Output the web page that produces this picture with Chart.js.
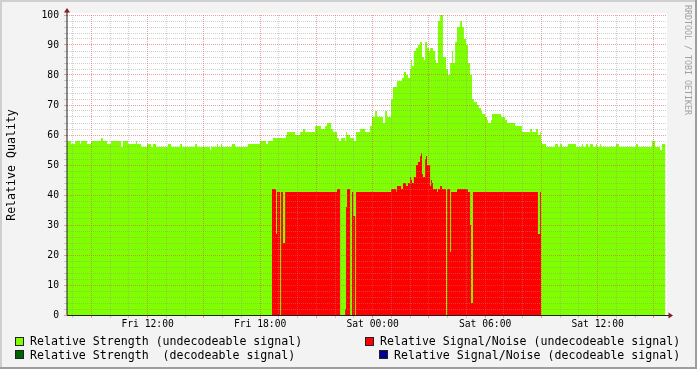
<!DOCTYPE html>
<html>
<head>
<meta charset="utf-8">
<script src="https://cdn.jsdelivr.net/npm/chart.js@4.4.0/dist/chart.umd.min.js"></script>
<style>
  html, body { margin: 0; padding: 0; background: #f3f3f3; }
  #wrap { position: relative; width: 697px; height: 369px; overflow: hidden; font-family: 'DejaVu Sans Mono', monospace; }
  #chart { position: absolute; left: 0; top: 0; }
  .item { position: absolute; font-size: 11.6px; line-height: 14px; white-space: pre; color: #000; }
  .swatch { position: absolute; width: 7px; height: 7px; border: 1px solid #222; }
  #ytitle { position: absolute; left: -89px; top: 158px; width: 200px; text-align: center; font-size: 11.6px; line-height: 14px; transform: rotate(-90deg); white-space: pre; }
  #credit { position: absolute; left: 683px; top: 5px; font-size: 8.3px; line-height: 10px; writing-mode: vertical-rl; color: #a0a0a0; white-space: pre; }
</style>
</head>
<body>
<div id="wrap">
  <canvas id="chart" width="697" height="369"></canvas>
  <div id="ytitle">Relative Quality</div>
  <div id="credit">RRDTOOL / TOBI OETIKER</div>
  <div class="swatch" style="left:15px;top:337px;background:#7fff00"></div>
  <div class="item" style="left:30px;top:334px">Relative Strength (undecodeable signal)</div>
  <div class="swatch" style="left:15px;top:350px;background:#006400"></div>
  <div class="item" style="left:30px;top:348px">Relative Strength  (decodeable signal)</div>
  <div class="swatch" style="left:365px;top:337px;background:#ff0000"></div>
  <div class="item" style="left:380px;top:334px">Relative Signal/Noise (undecodeable signal)</div>
  <div class="swatch" style="left:379px;top:350px;background:#000090"></div>
  <div class="item" style="left:394px;top:348px">Relative Signal/Noise (decodeable signal)</div>
</div>
<script>
// time axis in minutes since Fri 00:00
const startMinute = 462;   // Fri 07:42
const endMinute = 2382;    // Sat 15:42

const xTickMinutes = [720, 1080, 1440, 1800, 2160];
const xTickLabels = ['Fri 12:00', 'Fri 18:00', 'Sat 00:00', 'Sat 06:00', 'Sat 12:00'];

// Relative Strength (undecodeable) - value holds until the next time
const strengthTimes = [
  462, 475, 488, 504, 507, 526, 539, 571, 577, 590, 603, 635, 641, 657, 683, 686, 699, 718,
  731, 737, 747, 785, 795, 824, 830, 872, 878, 920, 923, 942, 945, 955, 958, 990, 1000, 1041,
  1080, 1099, 1105, 1121, 1163, 1166, 1192, 1208, 1217, 1224, 1256, 1275, 1288, 1294, 1307,
  1313, 1326, 1332, 1339, 1352, 1355, 1358, 1368, 1380, 1387, 1400, 1416, 1432, 1438, 1448,
  1454, 1473, 1480, 1486, 1499, 1505, 1518, 1534, 1540, 1547, 1553, 1560, 1563, 1566, 1572,
  1579, 1585, 1592, 1598, 1604, 1608, 1614, 1620, 1624, 1633, 1640, 1643, 1649, 1656, 1665,
  1675, 1681, 1688, 1694, 1697, 1704, 1710, 1720, 1726, 1732, 1739, 1745, 1752, 1758, 1764,
  1774, 1780, 1787, 1790, 1800, 1806, 1809, 1819, 1822, 1851, 1864, 1870, 1896, 1918, 1944,
  1950, 1963, 1969, 1976, 1979, 1982, 1995, 2024, 2033, 2040, 2046, 2065, 2091, 2110, 2113,
  2123, 2129, 2136, 2145, 2155, 2158, 2168, 2171, 2219, 2228, 2283, 2289, 2334, 2344, 2360,
  2366, 2377
];
const strengthValues = [
  58, 57, 58, 57, 58, 57, 58, 59, 58, 57, 58, 56, 58, 57, 58, 57, 56, 57,
  56, 57, 56, 57, 56, 57, 56, 57, 56, 55, 56, 57, 56, 57, 56, 57, 56, 57,
  58, 57, 58, 59, 60, 61, 60, 61, 62, 61, 63, 62, 63, 64, 62,
  61, 59, 58, 59, 58, 61, 60, 59, 58, 61, 62, 61, 63, 66, 68,
  66, 64, 68, 66, 72, 76, 78, 79, 81, 80, 79, 82, 85, 83, 88,
  89, 90, 91, 86, 85, 91, 89, 88, 89, 88, 85, 84, 98, 100, 86,
  82, 80, 84, 88, 84, 91, 96, 98, 96, 92, 90, 84, 80, 72, 71,
  70, 69, 68, 67, 66, 65, 64, 65, 67, 66, 65, 64, 63, 61, 62,
  61, 62, 60, 61, 58, 57, 56, 57, 56, 57, 56, 57, 56, 57, 56,
  57, 56, 57, 56, 57, 56, 57, 56, 57, 56, 57, 56, 58, 56, 55,
  57, 57
];

// Relative Signal/Noise (undecodeable)
const snrTimes = [
  1118, 1131, 1134, 1144, 1147, 1153, 1160, 1326, 1336, 1352, 1355, 1358, 1368, 1374, 1378,
  1384, 1387, 1499, 1516, 1518, 1531, 1537, 1547, 1553, 1560, 1563, 1566, 1572, 1579, 1585,
  1592, 1595, 1598, 1601, 1608, 1611, 1614, 1624, 1627, 1630, 1633, 1646, 1649, 1656, 1662,
  1675, 1678, 1688, 1691, 1710, 1745, 1752, 1755, 1761, 1969, 1976, 1979
];
const snrValues = [
  42, 27, 41, 0, 41, 24, 41, 42, 0, 2, 36, 42, 0, 41, 33,
  0, 41, 42, 41, 43, 42, 44, 43, 44, 46, 45, 44, 46, 50, 51,
  53, 54, 47, 46, 52, 53, 50, 43, 45, 44, 42, 41, 42, 43, 42,
  0, 42, 21, 41, 42, 41, 30, 4, 41, 27, 41, 41
];

// decodeable series carry no samples in this window
const decodedStrengthValues = [];
const decodedSnrValues = [];

const GREEN = '#7fff00';
const RED = '#ff0000';
const GRID = 'rgba(150,150,150,0.45)';
const MGRID = 'rgba(222,79,79,0.55)';
const FONT = "'DejaVu Sans Mono', monospace";

function toPoints(times, values) {
  return times.map((t, i) => ({ x: t, y: values[i] }));
}

const hourTicks = [];
for (let m = Math.ceil(startMinute / 60) * 60; m < endMinute; m += 60) hourTicks.push(m);
const unitTicks = [];
for (let v = 0; v <= 100; v += 2) unitTicks.push(v);

const framePlugin = {
  id: 'frame',
  beforeDraw(chart) {
    const { ctx, chartArea: a } = chart;
    ctx.save();
    ctx.fillStyle = '#f3f3f3';
    ctx.fillRect(0, 0, chart.width, chart.height);
    ctx.fillStyle = '#ffffff';
    ctx.fillRect(a.left, a.top - 2, a.right - a.left, a.bottom - a.top + 2);
    ctx.fillStyle = '#cfcfcf';
    ctx.fillRect(0, 0, chart.width, 2);
    ctx.fillRect(0, 0, 2, chart.height);
    ctx.fillStyle = '#9e9e9e';
    ctx.fillRect(0, chart.height - 2, chart.width, 2);
    ctx.fillRect(chart.width - 2, 0, 2, chart.height);
    ctx.restore();
  },
  afterDraw(chart) {
    const { ctx, chartArea: a } = chart;
    ctx.save();
    ctx.strokeStyle = '#1f1f1f';
    ctx.lineWidth = 1;
    ctx.beginPath();
    ctx.moveTo(a.left, a.bottom);
    ctx.lineTo(a.left, a.top - 3);
    ctx.stroke();
    ctx.beginPath();
    ctx.moveTo(a.left, a.bottom + 0.5);
    ctx.lineTo(a.right + 2, a.bottom + 0.5);
    ctx.stroke();
    ctx.fillStyle = '#7f1f1f';
    ctx.beginPath();
    ctx.moveTo(a.left, a.top - 7);
    ctx.lineTo(a.left - 3, a.top - 2.5);
    ctx.lineTo(a.left + 3, a.top - 2.5);
    ctx.closePath();
    ctx.fill();
    ctx.beginPath();
    ctx.moveTo(a.right + 6, a.bottom + 0.5);
    ctx.lineTo(a.right + 1.5, a.bottom - 2.5);
    ctx.lineTo(a.right + 1.5, a.bottom + 3.5);
    ctx.closePath();
    ctx.fill();
    ctx.restore();
  }
};

new Chart(document.getElementById('chart'), {
  type: 'line',
  data: {
    datasets: [
      {
        label: 'Relative Strength (undecodeable signal)',
        data: toPoints(strengthTimes, strengthValues),
        stepped: true,
        fill: 'origin',
        backgroundColor: GREEN,
        borderColor: 'rgba(0,0,0,0)',
        borderWidth: 0,
        pointRadius: 0,
        order: 2
      },
      {
        label: 'Relative Signal/Noise (undecodeable signal)',
        data: toPoints(snrTimes, snrValues),
        stepped: true,
        fill: 'origin',
        backgroundColor: RED,
        borderColor: 'rgba(0,0,0,0)',
        borderWidth: 0,
        pointRadius: 0,
        order: 1
      },
      { label: 'Relative Strength  (decodeable signal)', data: decodedStrengthValues, backgroundColor: '#006400', pointRadius: 0 },
      { label: 'Relative Signal/Noise (decodeable signal)', data: decodedSnrValues, backgroundColor: '#000090', pointRadius: 0 }
    ]
  },
  options: {
    responsive: false,
    animation: false,
    layout: { padding: { top: 15, right: 30, left: 0, bottom: 0 } },
    plugins: { legend: { display: false }, tooltip: { enabled: false } },
    scales: {
      x: {
        type: 'linear',
        min: startMinute,
        max: endMinute,
        afterBuildTicks: s => { s.ticks = hourTicks.map(v => ({ value: v })); },
        afterFit: s => { s.height = 54; },
        grid: {
          z: 1,
          tickLength: 3,
          color: c => (c.tick && c.tick.value % 180 === 0 ? MGRID : GRID)
        },
        border: { display: false, dash: [1, 1] },
        ticks: {
          autoSkip: false,
          maxRotation: 0,
          minRotation: 0,
          padding: 1,
          color: '#000',
          font: { family: FONT, size: 9.7 },
          callback: v => {
            const i = xTickMinutes.indexOf(v);
            return i >= 0 ? xTickLabels[i] : '';
          }
        }
      },
      y: {
        min: 0,
        max: 100,
        afterBuildTicks: s => { s.ticks = unitTicks.map(v => ({ value: v })); },
        afterFit: s => { s.width = 67; },
        grid: {
          z: 1,
          tickLength: 3,
          color: c => (c.tick && c.tick.value % 10 === 0 ? MGRID : GRID)
        },
        border: { display: false, dash: [1, 1] },
        ticks: {
          autoSkip: false,
          padding: 5,
          color: '#000',
          font: { family: FONT, size: 9.7 },
          callback: v => (v % 10 === 0 ? String(v) : '')
        }
      }
    }
  },
  plugins: [framePlugin]
});
</script>
</body>
</html>
